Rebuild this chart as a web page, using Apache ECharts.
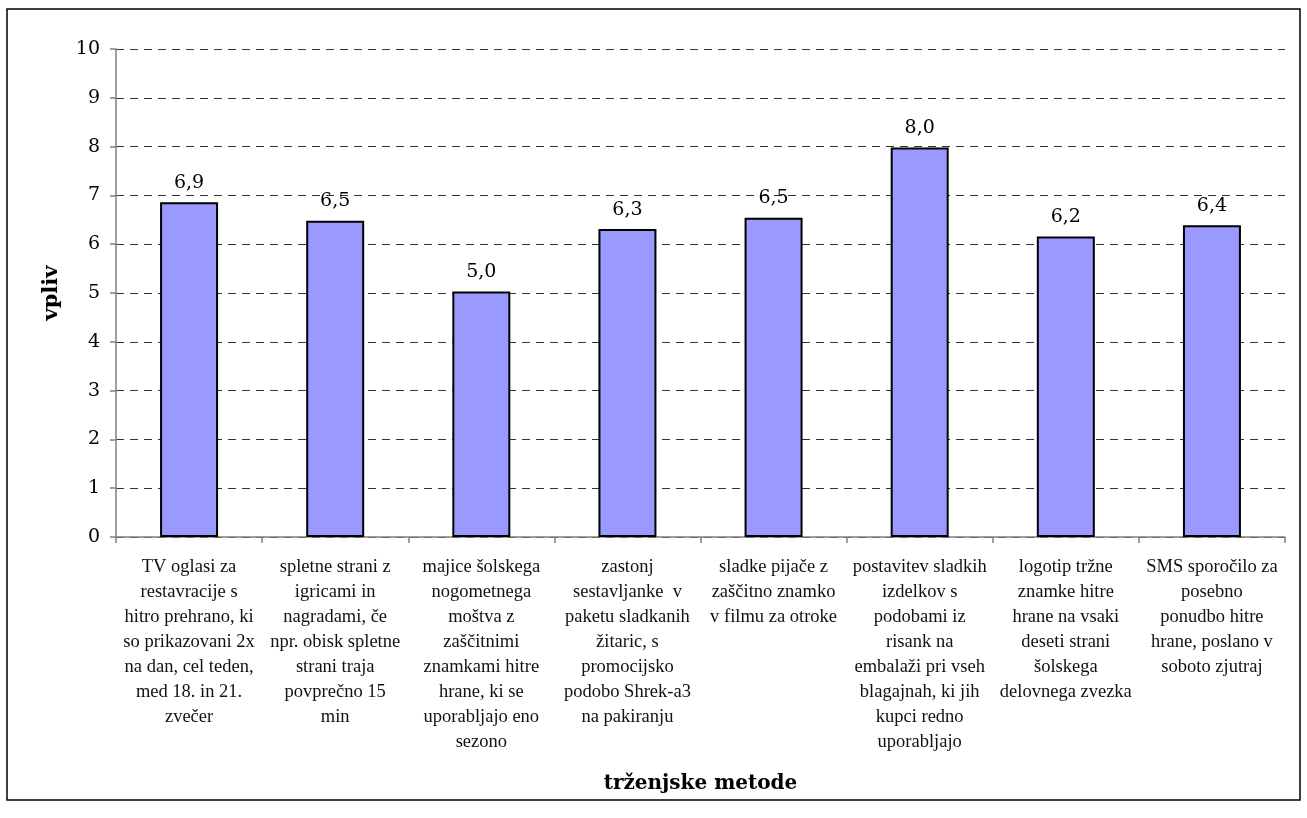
<!DOCTYPE html>
<html>
<head>
<meta charset="utf-8">
<script src="https://cdn.jsdelivr.net/npm/echarts@6/dist/echarts.min.js"></script>
<style>
  html, body { margin: 0; padding: 0; background: #fff; }
</style>
</head>
<body>
<div id="myChart" style="width:1307px;height:818px;"></div>
<script>
// kategorije (trženjske metode)
var categories = [
  "TV oglasi za\nrestavracije s\nhitro prehrano, ki\nso prikazovani 2x\nna dan, cel teden,\nmed 18. in 21.\nzvečer",
  "spletne strani z\nigricami in\nnagradami, če\nnpr. obisk spletne\nstrani traja\npovprečno 15\nmin",
  "majice šolskega\nnogometnega\nmoštva z\nzaščitnimi\nznamkami hitre\nhrane, ki se\nuporabljajo eno\nsezono",
  "zastonj\nsestavljanke  v\npaketu sladkanih\nžitaric, s\npromocijsko\npodobo Shrek-a3\nna pakiranju",
  "sladke pijače z\nzaščitno znamko\nv filmu za otroke",
  "postavitev sladkih\nizdelkov s\npodobami iz\nrisank na\nembalaži pri vseh\nblagajnah, ki jih\nkupci redno\nuporabljajo",
  "logotip tržne\nznamke hitre\nhrane na vsaki\ndeseti strani\nšolskega\ndelovnega zvezka",
  "SMS sporočilo za\nposebno\nponudbo hitre\nhrane, poslano v\nsoboto zjutraj"
];
// vpliv
var values = [6.86, 6.48, 5.03, 6.31, 6.54, 7.98, 6.16, 6.39];
var yTicks = [0, 1, 2, 3, 4, 5, 6, 7, 8, 9, 10];

var serif = "'Liberation Serif', serif";
var numFont = "'DejaVu Serif', serif";

var myChart = echarts.init(document.getElementById("myChart"));
myChart.setOption({
  animation: false,
  backgroundColor: "#fff",
  textStyle: { fontFamily: serif },
  graphic: [{
    type: "rect",
    shape: { x: 7, y: 9, width: 1293, height: 791 },
    style: { fill: "none", stroke: "#000", lineWidth: 1.5 },
    silent: true
  }],
  grid: { left: 116, right: 22, top: 49, bottom: 281 },
  xAxis: {
    type: "category",
    data: categories,
    name: "trženjske metode",
    nameLocation: "middle",
    nameGap: 237,
    nameTextStyle: { fontFamily: numFont, fontSize: 20, fontWeight: "bold", color: "#000" },
    axisLine: { lineStyle: { color: "#808080", width: 1.5 } },
    axisTick: { show: true, alignWithLabel: false, length: 6, lineStyle: { color: "#808080", width: 1.5 } },
    axisLabel: {
      interval: 0,
      margin: 18,
      fontFamily: serif,
      fontSize: 18.5,
      lineHeight: 25,
      color: "#111",
      align: "center",
      verticalAlign: "top"
    }
  },
  yAxis: {
    type: "value",
    min: yTicks[0],
    max: yTicks[yTicks.length - 1],
    interval: 1,
    name: "vpliv",
    nameLocation: "middle",
    nameGap: 54,
    nameRotate: 90,
    nameTextStyle: { fontFamily: numFont, fontSize: 21, fontWeight: "bold", color: "#000" },
    axisLine: { show: true, lineStyle: { color: "#808080", width: 1.5 } },
    axisTick: { show: true, length: 6, lineStyle: { color: "#808080", width: 1.5 } },
    axisLabel: { fontFamily: numFont, fontSize: 19, color: "#000", margin: 16 },
    splitLine: { lineStyle: { type: [8, 6], color: "#333", width: 1 } }
  },
  series: [{
    type: "bar",
    data: values,
    barWidth: 58,
    itemStyle: { color: "#9999ff", borderColor: "#000", borderWidth: 2 },
    label: {
      show: true,
      position: "top",
      distance: 10,
      fontFamily: numFont,
      fontSize: 19,
      color: "#000",
      formatter: function (p) { return p.value.toFixed(1).replace(".", ","); }
    }
  }]
});
</script>
</body>
</html>
